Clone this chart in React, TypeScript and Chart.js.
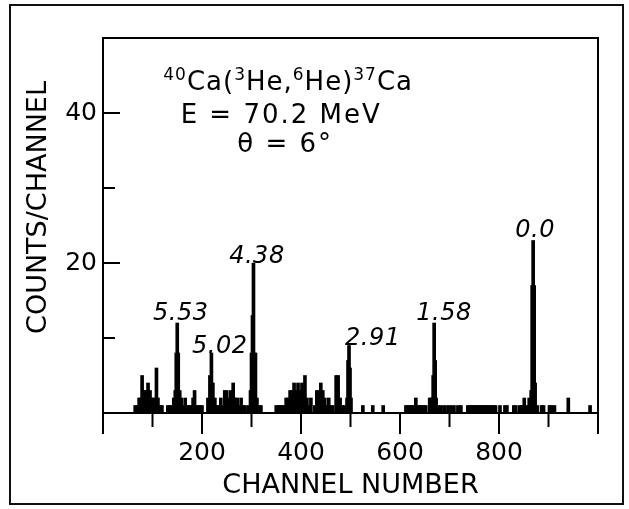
import React, { useEffect, useRef } from 'react';
import { Chart, registerables } from 'chart.js';

Chart.register(...registerables);

// ---- spectrum data: channel number -> counts per channel (non-zero channels) ----
const channelsA = [65, 69, 73, 77, 79, 83, 87, 91, 95, 99, 103, 108, 111, 115, 119,
  131, 135, 139, 143, 146, 148, 150, 152, 155, 158, 162, 166, 170, 174, 178, 182, 185, 188, 192, 196, 200,
  212, 216, 219, 222, 226, 230, 234, 238, 242, 246, 250, 254, 258, 263, 267, 271, 275, 279, 283, 287,
  294, 298, 300, 302, 304, 306, 308, 311, 315, 319];
const countsA = [1, 1, 2, 2, 5, 3, 3, 4, 3, 2, 2, 6, 2, 1, 1,
  1, 1, 1, 2, 3, 8, 12, 8, 3, 2, 1, 2, 1, 1, 1, 2, 3, 1, 1, 1, 1,
  2, 5, 8, 4, 2, 1, 1, 2, 1, 3, 3, 2, 3, 4, 2, 2, 1, 2, 1, 1,
  1, 3, 8, 13, 20, 8, 8, 2, 1, 1];

const channelsB = [350, 354, 358, 362, 366, 370, 374, 378, 382, 386, 390, 394, 398, 402, 406, 408, 412, 416, 420,
  428, 432, 436, 440, 444, 448, 452, 456, 460, 464, 471, 475, 479, 483, 487, 493, 495, 497, 499, 501,
  525, 545, 566];
const countsB = [1, 1, 1, 1, 1, 2, 2, 3, 3, 4, 3, 4, 3, 4, 3, 5, 2, 1, 2,
  1, 3, 3, 4, 3, 2, 1, 2, 1, 1, 5, 5, 2, 1, 1, 2, 7, 9, 6, 2,
  1, 1, 1];

const channelsC = [612, 616, 620, 624, 628, 632, 636, 640, 644, 648, 652, 660, 664, 667, 669, 671, 673, 677,
  683, 690, 697, 703, 709, 717, 723, 737, 741, 745, 749, 753, 757, 761];
const countsC = [1, 1, 1, 1, 1, 2, 1, 1, 1, 1, 1, 2, 2, 5, 12, 7, 2, 1,
  1, 1, 1, 1, 1, 1, 1, 1, 1, 1, 1, 1, 1, 1];

const channelsD = [765, 769, 773, 777, 781, 785, 789, 793, 802, 812, 816, 830, 834, 842, 846, 851, 856, 861,
  865, 867, 869, 871, 873, 877, 886, 890, 902, 906, 912, 940, 984];
const countsD = [1, 1, 1, 1, 1, 1, 1, 1, 1, 1, 1, 1, 1, 1, 1, 2, 1, 2,
  3, 17, 23, 17, 4, 1, 1, 1, 1, 1, 1, 2, 1];

// ---- axes ----
const xMin = 0;
const xMax = 1000;
const xStep = 100;
const xLabelled = [200, 400, 600, 800];
const yMin = 0;
const yMax = 50;
const yStep = 10;
const yLabelled = [20, 40];
const xTitle = 'CHANNEL NUMBER';
const yTitle = 'COUNTS/CHANNEL';

// ---- peak labels (excitation energies, MeV), anchored in data units ----
const peakLabels = ['5.53', '5.02', '4.38', '2.91', '1.58', '0.0'];
const peakLabelChannels = [157, 236, 311, 545, 689, 873];
const peakLabelCounts = [12.4, 8.0, 20.0, 9.1, 12.4, 23.5];

// ---- reaction annotation ----
const reactionParts = [
  { t: '40', sup: true }, { t: 'Ca(', sup: false }, { t: '3', sup: true }, { t: 'He,', sup: false },
  { t: '6', sup: true }, { t: 'He)', sup: false }, { t: '37', sup: true }, { t: 'Ca', sup: false },
];
const energyText = 'E = 70.2 MeV';
const angleText = 'θ = 6°';
const annotationChannels = [374, 360, 368];
const annotationCounts = [43.1, 38.7, 34.8];

const FONT = "'DejaVu Sans', 'Liberation Sans', sans-serif";

const decorPlugin = {
  id: 'decor',
  beforeDraw(chart: any) {
    const ctx = chart.ctx;
    ctx.save();
    ctx.fillStyle = '#fff';
    ctx.fillRect(0, 0, chart.width, chart.height);
    ctx.strokeStyle = '#111';
    ctx.lineWidth = 2;
    ctx.strokeRect(10, 5, 613, 499);
    ctx.restore();
  },
  afterDraw(chart: any) {
    const ctx = chart.ctx;
    const xs = chart.scales.x;
    const ys = chart.scales.y;
    const area = chart.chartArea;
    ctx.save();
    ctx.strokeStyle = '#000';
    ctx.lineWidth = 2;
    // x tick marks hanging below the zero line
    xs.ticks.forEach((t: any) => {
      const px = xs.getPixelForValue(t.value);
      const len = t.value % 200 === 0 ? 21 : 14;
      ctx.beginPath();
      ctx.moveTo(px, area.bottom);
      ctx.lineTo(px, area.bottom + len);
      ctx.stroke();
    });
    // y tick marks pointing inward
    ys.ticks.forEach((t: any) => {
      if (t.value <= yMin || t.value >= yMax) return;
      const py = ys.getPixelForValue(t.value);
      const len = t.value % 20 === 0 ? 17 : 12;
      ctx.beginPath();
      ctx.moveTo(area.left, py);
      ctx.lineTo(area.left + len, py);
      ctx.stroke();
    });

    ctx.fillStyle = '#000';

    // y axis title (rotated)
    ctx.save();
    ctx.translate(39, (area.top + area.bottom) / 2 - 18);
    ctx.rotate(-Math.PI / 2);
    ctx.font = `27px ${FONT}`;
    ctx.textAlign = 'center';
    ctx.textBaseline = 'middle';
    ctx.fillText(yTitle, 0, 0);
    ctx.restore();

    // peak labels
    ctx.font = `italic 24px ${FONT}`;
    ctx.textAlign = 'center';
    ctx.textBaseline = 'alphabetic';
    (ctx as any).letterSpacing = '0.5px';
    peakLabels.forEach((lab, i) => {
      ctx.fillText(lab, xs.getPixelForValue(peakLabelChannels[i]), ys.getPixelForValue(peakLabelCounts[i]));
    });

    // reaction line with superscripts
    (ctx as any).letterSpacing = '1px';
    const mainFont = `26px ${FONT}`;
    const supFont = `17px ${FONT}`;
    let total = 0;
    reactionParts.forEach((p) => {
      ctx.font = p.sup ? supFont : mainFont;
      total += ctx.measureText(p.t).width;
    });
    let cx = xs.getPixelForValue(annotationChannels[0]) - total / 2;
    const by = ys.getPixelForValue(annotationCounts[0]);
    ctx.textAlign = 'left';
    reactionParts.forEach((p) => {
      ctx.font = p.sup ? supFont : mainFont;
      ctx.fillText(p.t, cx, p.sup ? by - 10 : by);
      cx += ctx.measureText(p.t).width;
    });

    ctx.textAlign = 'center';
    ctx.font = mainFont;
    (ctx as any).letterSpacing = '2px';
    ctx.fillText(energyText, xs.getPixelForValue(annotationChannels[1]), ys.getPixelForValue(annotationCounts[1]));
    ctx.fillText(angleText, xs.getPixelForValue(annotationChannels[2]), ys.getPixelForValue(annotationCounts[2]));
    (ctx as any).letterSpacing = '0px';
    ctx.restore();
  },
};

export default function App() {
  const ref = useRef<HTMLCanvasElement>(null);
  useEffect(() => {
    document.body.style.margin = '0';
    const channels = [...channelsA, ...channelsB, ...channelsC, ...channelsD];
    const counts = [...countsA, ...countsB, ...countsC, ...countsD];
    const data = channels.map((c, i) => ({ x: c, y: counts[i] }));
    const chart = new Chart(ref.current as HTMLCanvasElement, {
      type: 'bar',
      data: {
        datasets: [{
          data,
          backgroundColor: '#000',
          borderWidth: 0,
          barThickness: 3,
        } as any],
      },
      plugins: [decorPlugin],
      options: {
        animation: false,
        responsive: false,
        events: [],
        layout: { padding: 0 },
        plugins: { legend: { display: false }, tooltip: { enabled: false } },
        scales: {
          x: {
            type: 'linear',
            position: 'bottom',
            min: xMin,
            max: xMax,
            offset: false,
            grid: { display: false, drawTicks: false, offset: false },
            border: { display: true, color: '#000', width: 2 },
            ticks: {
              stepSize: xStep,
              autoSkip: false,
              maxRotation: 0,
              padding: 25,
              color: '#000',
              font: { family: FONT, size: 25 },
              callback: (v: any) => (xLabelled.includes(Number(v)) ? String(v) : ''),
            },
            title: {
              display: true,
              text: xTitle,
              color: '#000',
              font: { family: FONT, size: 27 },
              padding: { top: 0, bottom: 7 },
            },
            afterFit: (s: any) => { s.height = 96; },
          },
          xTop: {
            type: 'linear',
            position: 'top',
            min: xMin,
            max: xMax,
            grid: { display: false, drawTicks: false },
            border: { display: true, color: '#000', width: 2 },
            ticks: { display: false },
            afterFit: (s: any) => { s.height = 38; },
          },
          y: {
            type: 'linear',
            position: 'left',
            min: yMin,
            max: yMax,
            grid: { display: false, drawTicks: false },
            border: { display: true, color: '#000', width: 2 },
            ticks: {
              stepSize: yStep,
              autoSkip: false,
              padding: 6,
              color: '#000',
              font: { family: FONT, size: 25 },
              callback: (v: any) => (yLabelled.includes(Number(v)) ? String(v) : ''),
            },
            afterFit: (s: any) => { s.width = 103; },
          },
          yRight: {
            type: 'linear',
            position: 'right',
            min: yMin,
            max: yMax,
            grid: { display: false, drawTicks: false },
            border: { display: true, color: '#000', width: 2 },
            ticks: { display: false },
            afterFit: (s: any) => { s.width = 31; },
          },
        },
      } as any,
    });
    return () => chart.destroy();
  }, []);
  return (
    <div style={{ width: 629, height: 509 }}>
      <canvas ref={ref} width={629} height={509} style={{ display: 'block' }} />
    </div>
  );
}
